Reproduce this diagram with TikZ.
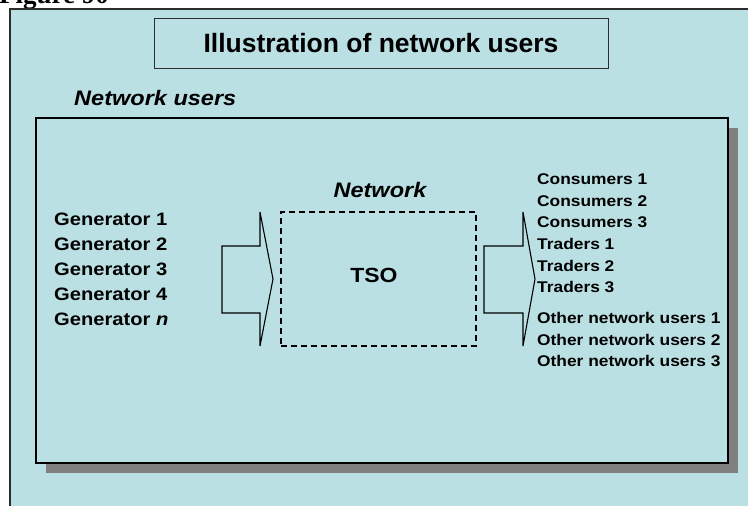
\documentclass[tikz,border=0pt]{standalone}
\usepackage{fontspec}
\setmainfont{Liberation Sans}
\newfontfamily\widesans[FakeStretch=1.12]{Liberation Sans}
\newfontfamily\capserif{Liberation Serif}
\usetikzlibrary{shadows}
\definecolor{panelblue}{RGB}{187,224,227}
\definecolor{shadowgray}{RGB}{128,128,128}
\definecolor{framegray}{RGB}{45,45,45}

\begin{document}
\begin{tikzpicture}[x=1pt,y=-1pt]\tikzstyle{every node}=[inner sep=0pt]
\tikzstyle{genline}=[anchor=base west, font=\widesans\bfseries\fontsize{18}{20}\selectfont]
\tikzstyle{userline}=[anchor=base west, font=\widesans\bfseries\fontsize{15.5}{18}\selectfont]
\tikzstyle{blockarrow}=[draw=black, line width=1.1pt, fill=panelblue]
\useasboundingbox (0,0) rectangle (748,506);
% caption
  \node[anchor=base west, font=\capserif\bfseries\fontsize{27}{30}\selectfont] (fig) at (-1,3) {Figure 90};
% panel
  \draw[draw=framegray, line width=1.2pt, fill=panelblue] (10,9) rectangle (780,540);
% title
  \node[draw=framegray, fill=panelblue, line width=1pt, minimum width=454pt, minimum height=50pt,%
    font=\bfseries\fontsize{26.5}{30}\selectfont] (title) at (381,43.5) {Illustration of network users};
  \node[anchor=base west, font=\widesans\bfseries\itshape\fontsize{21}{24}\selectfont] (userstitle) at (74,105) {Network users};
% network users box
  \node[draw=black, fill=panelblue, line width=1.2pt, minimum width=692pt, minimum height=345pt,%
    drop shadow={shadow xshift=10pt, shadow yshift=-10pt, fill=shadowgray, opacity=1}] (users) at (382,290.5) {};
% generators
  \node[genline] (gen1) at (54,225) {Generator 1};
  \node[genline] (gen2) at (54,250) {Generator 2};
  \node[genline] (gen3) at (54,275) {Generator 3};
  \node[genline] (gen4) at (54,300) {Generator 4};
  \node[genline] (gen5) at (54,325) {Generator \textit{n}};
% network
  \node[draw, dash pattern=on 6pt off 4pt, line width=1.2pt, minimum width=195pt, minimum height=134pt] (net) at (378.5,279) {};
  \node[anchor=base, font=\widesans\bfseries\itshape\fontsize{21}{24}\selectfont] (netlabel) at (380,197) {Network};
  \node[anchor=base, font=\widesans\bfseries\fontsize{20.5}{24}\selectfont] (tso) at (374,282) {TSO};
% users
  \node[userline] (cons1) at (537,184.3) {Consumers 1};
  \node[userline] (cons2) at (537,206) {Consumers 2};
  \node[userline] (cons3) at (537,227.7) {Consumers 3};
  \node[userline] (trad1) at (537,249.5) {Traders 1};
  \node[userline] (trad2) at (537,271) {Traders 2};
  \node[userline] (trad3) at (537,292.7) {Traders 3};
  \node[userline] (oth1) at (537,323.3) {Other network users 1};
  \node[userline] (oth2) at (537,345) {Other network users 2};
  \node[userline] (oth3) at (537,366.7) {Other network users 3};
%%%%%%%%%%%%%%%%
\draw[blockarrow] (222,246) -- (260,246) -- (260,212) -- (273,279) -- (260,346) -- (260,313) -- (222,313) -- cycle;
\draw[blockarrow] (484,246) -- (523,246) -- (523,212) -- (535,279) -- (523,346) -- (523,313) -- (484,313) -- cycle;
\end{tikzpicture}
\end{document}
